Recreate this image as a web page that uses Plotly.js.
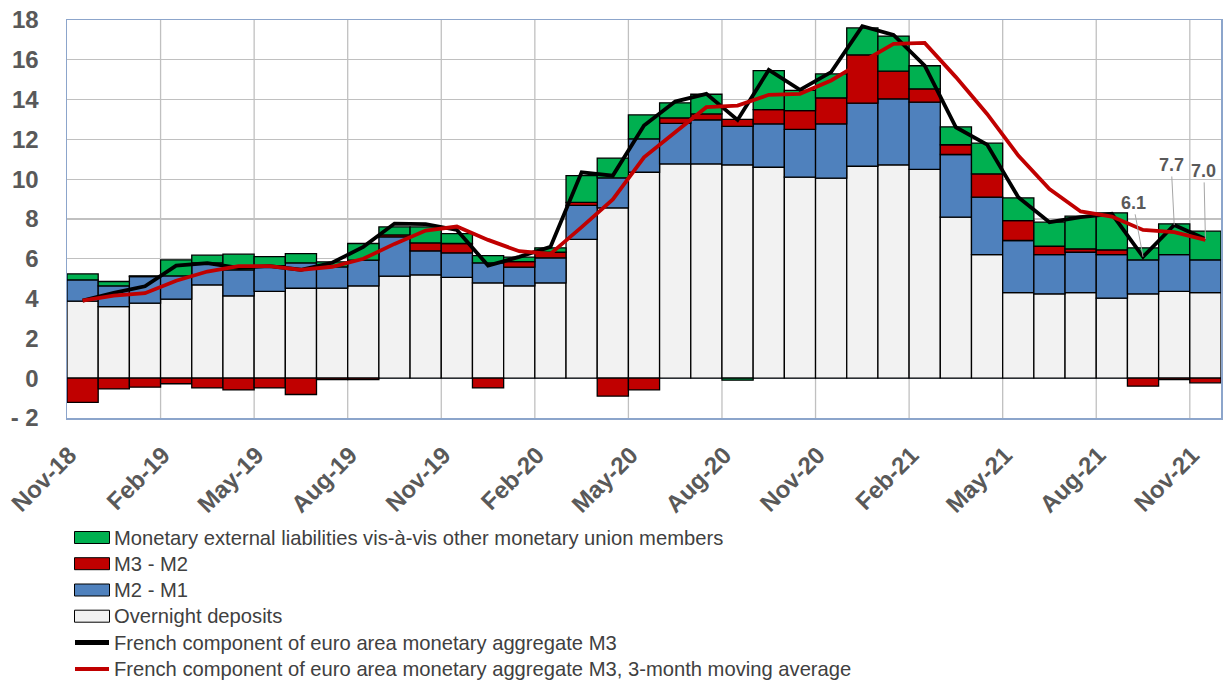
<!DOCTYPE html>
<html>
<head>
<meta charset="utf-8">
<script src="https://cdn.plot.ly/plotly-3.0.1.min.js"></script>
<style>html,body{margin:0;padding:0;background:#fff;}#chart{width:1223px;height:682px;}</style>
</head>
<body>
<div id="chart"></div>
<script>
var months = ["Nov-18","Dec-18","Jan-19","Feb-19","Mar-19","Apr-19","May-19","Jun-19","Jul-19","Aug-19","Sep-19","Oct-19",
              "Nov-19","Dec-19","Jan-20","Feb-20","Mar-20","Apr-20","May-20","Jun-20","Jul-20","Aug-20","Sep-20","Oct-20",
              "Nov-20","Dec-20","Jan-21","Feb-21","Mar-21","Apr-21","May-21","Jun-21","Jul-21","Aug-21","Sep-21","Oct-21","Nov-21"];

var overnightDeposits = [3.87,3.60,3.77,3.97,4.69,4.14,4.36,4.52,4.53,4.64,5.13,5.19,
                         5.07,4.79,4.64,4.79,6.98,8.56,10.35,10.77,10.77,10.72,10.60,10.10,
                         10.05,10.65,10.72,10.49,8.09,6.21,4.30,4.24,4.30,4.02,4.24,4.36,4.30];

var m2MinusM1 = [1.07,1.04,1.34,1.17,1.11,1.30,1.30,1.28,1.06,1.29,1.97,1.21,
                 1.23,1.01,0.94,1.26,1.70,1.51,1.68,2.04,2.21,1.93,2.18,2.40,
                 2.73,3.17,3.32,3.38,3.15,2.89,2.62,1.97,2.03,2.19,1.71,1.85,1.65];

var m3MinusM2 = [-1.21,-0.54,-0.45,-0.28,-0.49,-0.59,-0.49,-0.82,-0.07,-0.07,0.10,0.40,
                 0.47,-0.49,0.28,0.28,0.16,-0.90,-0.59,0.27,0.30,0.36,0.72,0.95,
                 1.31,2.43,1.39,0.67,0.49,1.17,1.00,0.42,0.17,0.24,-0.40,-0.07,-0.23];

var externalLiabilities = [0.30,0.22,0.03,0.81,0.38,0.79,0.45,0.46,0.26,0.84,0.40,0.80,
                           0.50,0.36,0.22,0.22,1.34,0.99,1.20,0.76,0.99,-0.10,1.96,1.01,
                           1.20,1.35,1.76,1.16,0.90,1.54,1.14,1.21,1.64,1.86,0.60,1.55,1.44];

var m3 = [3.90,4.29,4.62,5.66,5.78,5.55,5.63,5.45,5.80,6.60,7.77,7.74,
          7.45,5.66,6.10,6.60,10.35,10.18,12.70,13.90,14.29,12.98,15.49,14.49,
          15.38,17.69,17.25,15.71,12.61,11.74,9.10,7.84,8.09,8.26,6.10,7.70,7.00];

var m3MovingAverage = [3.90,4.15,4.27,4.90,5.36,5.63,5.63,5.44,5.60,6.00,6.75,7.42,
                       7.62,6.95,6.38,6.25,7.59,8.98,11.10,12.36,13.62,13.70,14.24,14.29,
                       14.96,15.90,16.80,16.85,15.13,13.28,11.19,9.51,8.38,8.12,7.45,7.34,6.95];

var yTickVals = [-2,0,2,4,6,8,10,12,14,16,18];
var yTickText = ["- 2","0","2","4","6","8","10","12","14","16","18"];
var xTickEvery = 3;

var labelMonths = ["Sep-21","Oct-21","Nov-21"];
var labelTexts = ["6.1","7.7","7.0"];

var seriesNames = ["Monetary external liabilities vis-à-vis other monetary union members",
                   "M3 - M2","M2 - M1","Overnight deposits",
                   "French component of euro area monetary aggregate M3",
                   "French component of euro area monetary aggregate M3, 3-month moving average"];
var colors = {green:"#00B050", red:"#C00000", blue:"#4F81BD", grey:"#F2F2F2", black:"#000000", line:"#C00000"};

// numeric positions of the months on a linear axis
var xIdx = months.map(function(m, i){ return i; });

var barLine = {color:"#000000", width:1.3};
function barTrace(y, name, color){
  return {type:"bar", x:xIdx, y:y, name:name, text:months, marker:{color:color, line:barLine}, hoverinfo:"text+y+name", textposition:"none"};
}
var traces = [
  barTrace(overnightDeposits, seriesNames[3], colors.grey),
  barTrace(m2MinusM1, seriesNames[2], colors.blue),
  barTrace(m3MinusM2, seriesNames[1], colors.red),
  barTrace(externalLiabilities, seriesNames[0], colors.green),
  {type:"scatter", mode:"lines", x:xIdx, y:m3, name:seriesNames[4], line:{color:colors.black, width:3.8}},
  {type:"scatter", mode:"lines", x:xIdx, y:m3MovingAverage, name:seriesNames[5], line:{color:colors.line, width:3.8}}
];

// tick labels every 3 months (shifted slightly left like the source), grid at category boundaries
var tickVals = [], tickText = [], shapes = [];
for (var k = 0; k < months.length; k += xTickEvery) {
  tickVals.push(k - 0.42);
  tickText.push(months[k]);
  if (k > 0) {
    shapes.push({type:"line", xref:"x", yref:"paper", x0:k - 0.5, x1:k - 0.5, y0:0, y1:1, layer:"below",
                 line:{color:"#C0C0C0", width:1.3}});
  }
}

// pixel -> paper helpers for the custom legend
var L = 67, R = 1221, T = 20, B = 418;
function xp(px){ return (px - L) / (R - L); }
function yp(py){ return (B - py) / (B - T); }

var annotations = [];
var rows = [537.5, 563.7, 590, 616.2, 642.6, 669];
var swatch = [
  {kind:"rect", color:colors.green},
  {kind:"rect", color:colors.red},
  {kind:"rect", color:colors.blue},
  {kind:"rect", color:colors.grey},
  {kind:"line", color:colors.black, w:5},
  {kind:"line", color:colors.line, w:4}
];
for (var i = 0; i < rows.length; i++) {
  var c = rows[i];
  if (swatch[i].kind === "rect") {
    shapes.push({type:"rect", xref:"paper", yref:"paper", x0:xp(74.5), x1:xp(109.5), y0:yp(c+6), y1:yp(c-6),
                 fillcolor:swatch[i].color, line:{color:"#000", width:1}});
  } else {
    shapes.push({type:"line", xref:"paper", yref:"paper", x0:xp(75), x1:xp(109), y0:yp(c), y1:yp(c),
                 line:{color:swatch[i].color, width:swatch[i].w}});
  }
  annotations.push({xref:"paper", yref:"paper", x:xp(112), y:yp(c), xanchor:"left", yanchor:"middle",
                    text:seriesNames[i], showarrow:false,
                    font:{family:"Liberation Sans, Arial, sans-serif", size:20.2, color:"#404040"}});
}

var offsets = [[-10,-54],[-3,-60],[-1.5,-68]];
for (var j = 0; j < labelMonths.length; j++) {
  var idx = months.indexOf(labelMonths[j]);
  annotations.push({xref:"x", yref:"y", x:xIdx[idx], y:m3[idx], text:labelTexts[j],
                    showarrow:true, arrowhead:0, arrowwidth:1, arrowcolor:"#A6A6A6", standoff:0,
                    ax:offsets[j][0], ay:offsets[j][1],
                    font:{family:"Liberation Sans, Arial, sans-serif", size:18, color:"#595959", weight:"bold"}});
}

var tickFont = {family:"Liberation Sans, Arial, sans-serif", size:24, color:"#595959", weight:"bold"};
var layout = {
  width:1223, height:682,
  margin:{l:L, r:1223-R, t:T, b:682-B, pad:0},
  paper_bgcolor:"#ffffff", plot_bgcolor:"#ffffff",
  barmode:"relative", bargap:0,
  showlegend:false,
  xaxis:{type:"linear", range:[-0.5, 36.5], tickmode:"array", tickvals:tickVals, ticktext:tickText,
         tickangle:-45, ticks:"", tickfont:tickFont, ticklabelstandoff:12,
         showgrid:false, zeroline:false,
         showline:true, mirror:true, linecolor:"#8CA5CB", linewidth:1.5},
  yaxis:{range:[-2,18], tickmode:"array", tickvals:yTickVals, ticktext:yTickText, ticks:"",
         tickfont:tickFont, ticklabelstandoff:22,
         showgrid:true, gridcolor:"#C0C0C0", gridwidth:1.3,
         zeroline:true, zerolinecolor:"#8CA5CB", zerolinewidth:1.5,
         showline:true, mirror:true, linecolor:"#8CA5CB", linewidth:1.5},
  shapes:shapes, annotations:annotations
};
Plotly.newPlot("chart", traces, layout, {displayModeBar:false, staticPlot:true});
</script>
</body>
</html>
